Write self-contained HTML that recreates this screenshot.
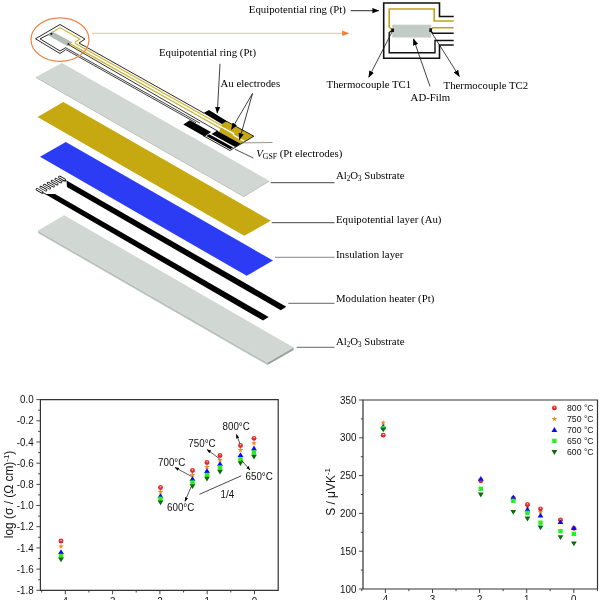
<!DOCTYPE html>
<html><head><meta charset="utf-8"><title>Sensor figure</title>
<style>
html,body{margin:0;padding:0;background:#fff;}
svg{display:block;}
.s{font-family:"Liberation Serif",serif;font-size:11.4px;fill:#000;}
.a{font-family:"Liberation Sans",sans-serif;font-size:10.4px;fill:#111;}
</style></head><body>
<svg width="600" height="600" viewBox="0 0 600 600">
<defs>
<marker id="ah" viewBox="0 0 10 10" refX="9" refY="5" markerWidth="7" markerHeight="7" markerUnits="userSpaceOnUse" orient="auto"><path d="M0,1.2 L10,5 L0,8.8 z" fill="#000"/></marker>
<marker id="ahs" viewBox="0 0 10 10" refX="9" refY="5" markerWidth="4.5" markerHeight="4.5" markerUnits="userSpaceOnUse" orient="auto"><path d="M0,1.5 L10,5 L0,8.5 z" fill="#000"/></marker>
<marker id="aho" viewBox="0 0 10 10" refX="9" refY="5" markerWidth="7" markerHeight="7" markerUnits="userSpaceOnUse" orient="auto"><path d="M0,1 L10,5 L0,9 z" fill="#f08030"/></marker>
<radialGradient id="rg" cx="0.52" cy="0.36" r="0.6"><stop offset="0" stop-color="#fff"/><stop offset="0.3" stop-color="#f04040"/><stop offset="1" stop-color="#d01010"/></radialGradient>
</defs>
<rect width="600" height="600" fill="#fff"/>

<polygon points="35.8,77.0 62.0,63.0 269.2,180.8 243.7,196.3" fill="#d1d8d4" />
<polyline points="35.8,77.3 243.7,196.6 269.2,181.1" fill="none" stroke="#a9b0ac" stroke-width="0.8"/>
<polygon points="37.5,117.0 63.3,102.0 270.8,220.8 244.2,235.8" fill="#c6a810" />
<polygon points="40.0,156.7 65.8,142.0 273.0,260.5 246.7,275.8" fill="#2c3cf4" />
<polygon points="38.0,230.5 38.0,233.0 267.5,365.0 267.5,362.5" fill="#b9c1bd" />
<polygon points="267.5,362.5 267.5,365.0 293.7,350.0 293.7,347.5" fill="#9aa29e" />
<polygon points="38.0,230.5 64.2,215.3 293.7,347.5 267.5,362.5" fill="#d1d8d4" />
<polygon points="66.5,180.5 286.3,306.7 280.8,310.3 67.0,187.0" fill="#000" />
<polygon points="45.0,194.0 55.0,194.0 268.7,317.0 263.0,320.5" fill="#000" />
<line x1="37.0" y1="189.3" x2="42.2" y2="192.3" stroke="#000" stroke-width="2.6" stroke-linecap="round"/>
<line x1="37.0" y1="189.3" x2="42.2" y2="192.3" stroke="#fff" stroke-width="1.1" stroke-linecap="round"/>
<line x1="40.8" y1="187.2" x2="46.0" y2="190.2" stroke="#000" stroke-width="2.6" stroke-linecap="round"/>
<line x1="40.8" y1="187.2" x2="46.0" y2="190.2" stroke="#fff" stroke-width="1.1" stroke-linecap="round"/>
<line x1="44.5" y1="185.2" x2="49.7" y2="188.2" stroke="#000" stroke-width="2.6" stroke-linecap="round"/>
<line x1="44.5" y1="185.2" x2="49.7" y2="188.2" stroke="#fff" stroke-width="1.1" stroke-linecap="round"/>
<line x1="48.2" y1="183.2" x2="53.5" y2="186.1" stroke="#000" stroke-width="2.6" stroke-linecap="round"/>
<line x1="48.2" y1="183.2" x2="53.5" y2="186.1" stroke="#fff" stroke-width="1.1" stroke-linecap="round"/>
<line x1="52.0" y1="181.1" x2="57.2" y2="184.1" stroke="#000" stroke-width="2.6" stroke-linecap="round"/>
<line x1="52.0" y1="181.1" x2="57.2" y2="184.1" stroke="#fff" stroke-width="1.1" stroke-linecap="round"/>
<line x1="55.8" y1="179.1" x2="61.0" y2="182.0" stroke="#000" stroke-width="2.6" stroke-linecap="round"/>
<line x1="55.8" y1="179.1" x2="61.0" y2="182.0" stroke="#fff" stroke-width="1.1" stroke-linecap="round"/>
<line x1="59.5" y1="177.0" x2="64.7" y2="180.0" stroke="#000" stroke-width="2.6" stroke-linecap="round"/>
<line x1="59.5" y1="177.0" x2="64.7" y2="180.0" stroke="#fff" stroke-width="1.1" stroke-linecap="round"/>
<path d="M62.5,180.8 L66.5,181" stroke="#000" stroke-width="0.8" fill="none"/>
<path d="M42,192.5 L46,194" stroke="#000" stroke-width="0.8" fill="none"/>
<path d="M79,43 L85,39 L60,24.5 L35.5,38.8 L60,53.5 L65.5,49.8" fill="none" stroke="#2a2a2a" stroke-width="1"/>
<path d="M51.5,33 L40,38.8 L60,51 L65.8,47.6" fill="none" stroke="#2a2a2a" stroke-width="1"/>
<path d="M51.5,33 L60,27.6 L80,39 L75,42.2" fill="none" stroke="#cbb534" stroke-width="1.1"/>
<polygon points="51.8,31.2 72.6,42.4 67.3,45.9 47.8,35.2" fill="#b4bcb7" />
<circle cx="51.3" cy="33.8" r="1.1" fill="#111"/>
<circle cx="68.6" cy="44.2" r="1.1" fill="#111"/>
<line x1="79.0" y1="43.0" x2="204.0" y2="113.2" stroke="#2a2a2a" stroke-width="1.00"/>
<line x1="75.0" y1="43.2" x2="224.5" y2="127.2" stroke="#cbb534" stroke-width="1.25"/>
<line x1="69.0" y1="43.1" x2="224.0" y2="130.2" stroke="#cbb534" stroke-width="1.25"/>
<line x1="68.5" y1="44.6" x2="218" y2="131.3" stroke="#2a2a2a" stroke-width="0.95"/>
<line x1="65.8" y1="47.8" x2="200.0" y2="123.2" stroke="#2a2a2a" stroke-width="0.90"/>
<line x1="65.5" y1="49.4" x2="196.0" y2="122.8" stroke="#2a2a2a" stroke-width="0.90"/>
<polygon points="203.5,113.0 209.0,110.0 228.0,121.7 223.0,124.7" fill="#000" />
<polygon points="183.3,124.6 189.8,120.3 211.0,132.0 204.5,136.6" fill="#000" />
<polygon points="253.8,136.2 245.5,141.2 234.5,135.1 234.0,133.1 222.0,126.5 221.5,124.2 225.7,121.7 227.8,121.9" fill="#c6a810" />
<polygon points="244.3,141.9 241.0,143.9 219.0,131.8 221.0,127.6 232.6,134.0 233.3,135.8" fill="#c6a810" />
<polyline points="227.6,121.8 253.8,136.2 230.0,150.5 203.5,135.9 207.8,133.3" fill="none" stroke="#111" stroke-width="0.9" stroke-linejoin="round"/>
<polygon points="240.7,143.7 235.2,147.0 211.5,134.0 217.0,130.7" fill="#000" />
<polygon points="233.2,147.4 230.2,149.2 206.2,136.0 209.2,134.2" fill="#000" />
<ellipse cx="60" cy="39.7" rx="29" ry="21.7" fill="none" stroke="#ee8648" stroke-width="1.25"/>
<line x1="92" y1="33.3" x2="348.5" y2="33.3" stroke="#f4b088" stroke-width="0.9" marker-end="url(#aho)"/>
<rect x="392.2" y="24.7" width="39" height="12.8" fill="#c3cbc6"/>
<path d="M453.7,16.5 H439.5 V3 H383.7 V58.2 H439.5 V45 H453.7" fill="none" stroke="#111" stroke-width="1.6"/>
<path d="M453.7,21 H434.2 V9 H389.2 V27 L392.5,30.2" fill="none" stroke="#bfa516" stroke-width="1.6"/>
<path d="M453.7,27.7 H432.8 L430.5,30" fill="none" stroke="#bfa516" stroke-width="1.6"/>
<path d="M453.7,33.3 H432.8 L430.8,30.6" fill="none" stroke="#111" stroke-width="1.4"/>
<path d="M453.7,40.5 H435 V52.8 H389.2 V32.5 L392.5,30" fill="none" stroke="#111" stroke-width="1.4"/>
<path d="M391.3,28.5 L394,28.5 L394,32 L391.3,32z" fill="#111"/>
<path d="M429.3,28.3 L432,28.3 L432,32 L429.3,32z" fill="#111"/>
<line x1="392.5" y1="31" x2="368.8" y2="77.2" stroke="#111" stroke-width="0.8" marker-end="url(#ah)"/>
<line x1="431" y1="31.5" x2="459.3" y2="76.5" stroke="#111" stroke-width="0.8" marker-end="url(#ah)"/>
<line x1="430" y1="86.4" x2="413.5" y2="39" stroke="#111" stroke-width="0.8" marker-end="url(#ah)"/>
<line x1="350.7" y1="10.7" x2="378.7" y2="10.7" stroke="#111" stroke-width="0.9" marker-end="url(#ah)"/>
<line x1="220" y1="63.8" x2="217.3" y2="113" stroke="#111" stroke-width="0.8" marker-end="url(#ah)"/>
<line x1="252.5" y1="93.5" x2="231.5" y2="129.3" stroke="#111" stroke-width="0.8" marker-end="url(#ah)"/>
<line x1="252.5" y1="93.5" x2="239.5" y2="139.5" stroke="#111" stroke-width="0.8" marker-end="url(#ah)"/>
<line x1="235" y1="149.2" x2="253.3" y2="158" stroke="#222" stroke-width="0.8"/>
<line x1="241.7" y1="142.9" x2="272.5" y2="142.5" stroke="#777" stroke-width="0.8"/>
<circle cx="263.3" cy="142.3" r="0.9" fill="#d8c020"/>
<line x1="270.7" y1="182.7" x2="334.5" y2="182.7" stroke="#333" stroke-width="0.9"/>
<line x1="271.7" y1="222.7" x2="334.5" y2="222.7" stroke="#333" stroke-width="0.9"/>
<line x1="275.0" y1="257.3" x2="334.5" y2="257.3" stroke="#777" stroke-width="0.9"/>
<line x1="288.3" y1="303.3" x2="334.5" y2="303.3" stroke="#555" stroke-width="0.9"/>
<line x1="296.7" y1="347.3" x2="334.5" y2="347.3" stroke="#555" stroke-width="0.9"/>
<text transform="translate(248.8,12.6) scale(0.947,1)" class="s" >Equipotential ring (Pt)</text>
<text transform="translate(158.9,55.6) scale(0.947,1)" class="s" >Equipotential ring (Pt)</text>
<text transform="translate(220.5,87.2) scale(0.947,1)" class="s" >Au electrodes</text>
<text transform="translate(256.2,156.7) scale(0.947,1)" class="s" ><tspan font-style="italic">V</tspan><tspan font-size="8.2" dy="1.8">GSF</tspan><tspan dy="-1.8"> (Pt electrodes)</tspan></text>
<text transform="translate(336.0,178.8) scale(0.947,1)" class="s" >Al<tspan font-size="7.4" dy="1.8">2</tspan><tspan dy="-1.8">O</tspan><tspan font-size="7.4" dy="1.8">3</tspan><tspan dy="-1.8"> Substrate</tspan></text>
<text transform="translate(336.0,222.8) scale(0.947,1)" class="s" >Equipotential layer (Au)</text>
<text transform="translate(336.0,258.3) scale(0.947,1)" class="s" >Insulation layer</text>
<text transform="translate(336.0,301.7) scale(0.947,1)" class="s" >Modulation heater (Pt)</text>
<text transform="translate(336.0,345.0) scale(0.947,1)" class="s" >Al<tspan font-size="7.4" dy="1.8">2</tspan><tspan dy="-1.8">O</tspan><tspan font-size="7.4" dy="1.8">3</tspan><tspan dy="-1.8"> Substrate</tspan></text>
<text transform="translate(326.6,87.5) scale(0.947,1)" class="s" >Thermocouple TC1</text>
<text transform="translate(443.6,88.6) scale(0.947,1)" class="s" >Thermocouple TC2</text>
<text transform="translate(410.6,101.0) scale(0.947,1)" class="s" >AD-Film</text>
<path d="M40.4,399.6 H278.2 V590.3 H40.4 z" fill="none" stroke="#333" stroke-width="1.2"/>
<line x1="36.4" y1="399.6" x2="40.4" y2="399.6" stroke="#333" stroke-width="0.9"/>
<text transform="translate(33.6,403.2) scale(0.942,1)" class="a" text-anchor="end">0.0</text>
<line x1="38.2" y1="410.2" x2="40.4" y2="410.2" stroke="#333" stroke-width="0.9"/>
<line x1="36.4" y1="420.8" x2="40.4" y2="420.8" stroke="#333" stroke-width="0.9"/>
<text transform="translate(33.6,424.4) scale(0.942,1)" class="a" text-anchor="end">-0.2</text>
<line x1="38.2" y1="431.4" x2="40.4" y2="431.4" stroke="#333" stroke-width="0.9"/>
<line x1="36.4" y1="442.0" x2="40.4" y2="442.0" stroke="#333" stroke-width="0.9"/>
<text transform="translate(33.6,445.6) scale(0.942,1)" class="a" text-anchor="end">-0.4</text>
<line x1="38.2" y1="452.6" x2="40.4" y2="452.6" stroke="#333" stroke-width="0.9"/>
<line x1="36.4" y1="463.2" x2="40.4" y2="463.2" stroke="#333" stroke-width="0.9"/>
<text transform="translate(33.6,466.8) scale(0.942,1)" class="a" text-anchor="end">-0.6</text>
<line x1="38.2" y1="473.8" x2="40.4" y2="473.8" stroke="#333" stroke-width="0.9"/>
<line x1="36.4" y1="484.4" x2="40.4" y2="484.4" stroke="#333" stroke-width="0.9"/>
<text transform="translate(33.6,488.0) scale(0.942,1)" class="a" text-anchor="end">-0.8</text>
<line x1="38.2" y1="494.9" x2="40.4" y2="494.9" stroke="#333" stroke-width="0.9"/>
<line x1="36.4" y1="505.5" x2="40.4" y2="505.5" stroke="#333" stroke-width="0.9"/>
<text transform="translate(33.6,509.1) scale(0.942,1)" class="a" text-anchor="end">-1.0</text>
<line x1="38.2" y1="516.1" x2="40.4" y2="516.1" stroke="#333" stroke-width="0.9"/>
<line x1="36.4" y1="526.7" x2="40.4" y2="526.7" stroke="#333" stroke-width="0.9"/>
<text transform="translate(33.6,530.3) scale(0.942,1)" class="a" text-anchor="end">-1.2</text>
<line x1="38.2" y1="537.3" x2="40.4" y2="537.3" stroke="#333" stroke-width="0.9"/>
<line x1="36.4" y1="547.9" x2="40.4" y2="547.9" stroke="#333" stroke-width="0.9"/>
<text transform="translate(33.6,551.5) scale(0.942,1)" class="a" text-anchor="end">-1.4</text>
<line x1="38.2" y1="558.5" x2="40.4" y2="558.5" stroke="#333" stroke-width="0.9"/>
<line x1="36.4" y1="569.1" x2="40.4" y2="569.1" stroke="#333" stroke-width="0.9"/>
<text transform="translate(33.6,572.7) scale(0.942,1)" class="a" text-anchor="end">-1.6</text>
<line x1="38.2" y1="579.7" x2="40.4" y2="579.7" stroke="#333" stroke-width="0.9"/>
<line x1="36.4" y1="590.3" x2="40.4" y2="590.3" stroke="#333" stroke-width="0.9"/>
<text transform="translate(33.6,593.9) scale(0.942,1)" class="a" text-anchor="end">-1.8</text>
<line x1="65.3" y1="590.3" x2="65.3" y2="594.3" stroke="#333" stroke-width="0.9"/>
<text transform="translate(63.7,604.6) scale(0.942,1)" class="a" text-anchor="middle">-4</text>
<line x1="112.6" y1="590.3" x2="112.6" y2="594.3" stroke="#333" stroke-width="0.9"/>
<text transform="translate(111.0,604.6) scale(0.942,1)" class="a" text-anchor="middle">-3</text>
<line x1="159.9" y1="590.3" x2="159.9" y2="594.3" stroke="#333" stroke-width="0.9"/>
<text transform="translate(158.3,604.6) scale(0.942,1)" class="a" text-anchor="middle">-2</text>
<line x1="207.2" y1="590.3" x2="207.2" y2="594.3" stroke="#333" stroke-width="0.9"/>
<text transform="translate(205.6,604.6) scale(0.942,1)" class="a" text-anchor="middle">-1</text>
<line x1="254.5" y1="590.3" x2="254.5" y2="594.3" stroke="#333" stroke-width="0.9"/>
<text transform="translate(254.5,604.6) scale(0.942,1)" class="a" text-anchor="middle">0</text>
<line x1="41.6" y1="590.3" x2="41.6" y2="592.5" stroke="#333" stroke-width="0.9"/>
<line x1="88.9" y1="590.3" x2="88.9" y2="592.5" stroke="#333" stroke-width="0.9"/>
<line x1="136.2" y1="590.3" x2="136.2" y2="592.5" stroke="#333" stroke-width="0.9"/>
<line x1="183.6" y1="590.3" x2="183.6" y2="592.5" stroke="#333" stroke-width="0.9"/>
<line x1="230.8" y1="590.3" x2="230.8" y2="592.5" stroke="#333" stroke-width="0.9"/>
<text class="a" style="font-size:12.3px" text-anchor="middle" transform="translate(12.8,494.5) rotate(-90) scale(0.97,1)">log (σ / (Ω cm)<tspan font-size="8" dy="-4.2">-1</tspan><tspan dy="4.2">)</tspan></text>
<circle cx="61.0" cy="541.0" r="2.4" fill="url(#rg)"/>
<polygon points="61.0,543.7 61.7,545.5 63.7,545.6 62.1,546.9 62.6,548.8 61.0,547.7 59.4,548.8 59.9,546.9 58.3,545.6 60.3,545.5" fill="#f28a1e" />
<polygon points="58.1,554.1 63.9,554.1 61.0,549.2" fill="#0a0af8" />
<rect x="58.8" y="553.8" width="4.4" height="4.4" fill="#22f422"/>
<polygon points="58.1,557.4 63.9,557.4 61.0,562.3" fill="#106a10" />
<circle cx="160.5" cy="487.5" r="2.4" fill="url(#rg)"/>
<polygon points="160.5,489.0 161.2,490.8 163.2,490.9 161.6,492.2 162.1,494.1 160.5,493.0 158.9,494.1 159.4,492.2 157.8,490.9 159.8,490.8" fill="#f28a1e" />
<polygon points="157.6,497.9 163.4,497.9 160.5,493.0" fill="#0a0af8" />
<rect x="158.3" y="496.6" width="4.4" height="4.4" fill="#22f422"/>
<polygon points="157.6,500.4 163.4,500.4 160.5,505.3" fill="#106a10" />
<circle cx="192.5" cy="470.5" r="2.4" fill="url(#rg)"/>
<polygon points="192.5,472.2 193.2,474.0 195.2,474.1 193.6,475.4 194.1,477.3 192.5,476.2 190.9,477.3 191.4,475.4 189.8,474.1 191.8,474.0" fill="#f28a1e" />
<polygon points="189.6,480.9 195.4,480.9 192.5,476.0" fill="#0a0af8" />
<rect x="190.3" y="480.3" width="4.4" height="4.4" fill="#22f422"/>
<polygon points="189.6,484.2 195.4,484.2 192.5,489.1" fill="#106a10" />
<circle cx="207.0" cy="462.5" r="2.4" fill="url(#rg)"/>
<polygon points="207.0,464.2 207.7,466.0 209.7,466.1 208.1,467.4 208.6,469.3 207.0,468.2 205.4,469.3 205.9,467.4 204.3,466.1 206.3,466.0" fill="#f28a1e" />
<polygon points="204.1,472.9 209.9,472.9 207.0,468.0" fill="#0a0af8" />
<rect x="204.8" y="472.8" width="4.4" height="4.4" fill="#22f422"/>
<polygon points="204.1,476.7 209.9,476.7 207.0,481.6" fill="#106a10" />
<circle cx="220.0" cy="455.5" r="2.4" fill="url(#rg)"/>
<polygon points="220.0,457.2 220.7,459.0 222.7,459.1 221.1,460.4 221.6,462.3 220.0,461.2 218.4,462.3 218.9,460.4 217.3,459.1 219.3,459.0" fill="#f28a1e" />
<polygon points="217.1,465.9 222.9,465.9 220.0,461.0" fill="#0a0af8" />
<rect x="217.8" y="465.3" width="4.4" height="4.4" fill="#22f422"/>
<polygon points="217.1,469.7 222.9,469.7 220.0,474.6" fill="#106a10" />
<circle cx="240.5" cy="445.5" r="2.4" fill="url(#rg)"/>
<polygon points="240.5,447.2 241.2,449.0 243.2,449.1 241.6,450.4 242.1,452.3 240.5,451.2 238.9,452.3 239.4,450.4 237.8,449.1 239.8,449.0" fill="#f28a1e" />
<polygon points="237.6,457.1 243.4,457.1 240.5,452.2" fill="#0a0af8" />
<rect x="238.3" y="457.1" width="4.4" height="4.4" fill="#22f422"/>
<polygon points="237.6,461.2 243.4,461.2 240.5,466.1" fill="#106a10" />
<circle cx="254.0" cy="438.3" r="2.4" fill="url(#rg)"/>
<polygon points="254.0,440.5 254.7,442.3 256.7,442.4 255.1,443.7 255.6,445.6 254.0,444.5 252.4,445.6 252.9,443.7 251.3,442.4 253.3,442.3" fill="#f28a1e" />
<polygon points="251.1,450.4 256.9,450.4 254.0,445.5" fill="#0a0af8" />
<rect x="251.8" y="450.3" width="4.4" height="4.4" fill="#22f422"/>
<polygon points="251.1,454.7 256.9,454.7 254.0,459.6" fill="#106a10" />
<text transform="translate(222.5,430.3) scale(0.942,1)" class="a" >800°C</text>
<text transform="translate(188.3,447.1) scale(0.942,1)" class="a" >750°C</text>
<text transform="translate(158.0,465.8) scale(0.942,1)" class="a" >700°C</text>
<text transform="translate(245.5,479.8) scale(0.942,1)" class="a" >650°C</text>
<text transform="translate(167.0,511.1) scale(0.942,1)" class="a" >600°C</text>
<text transform="translate(220.5,497.8) scale(0.942,1)" class="a" >1/4</text>
<line x1="199.5" y1="494.3" x2="241.3" y2="475.8" stroke="#333" stroke-width="0.9"/>
<line x1="240.0" y1="443.8" x2="236.3" y2="434.3" stroke="#111" stroke-width="0.7" marker-end="url(#ahs)"/>
<line x1="219.5" y1="458.8" x2="207.0" y2="449.5" stroke="#111" stroke-width="0.7" marker-end="url(#ahs)"/>
<line x1="191.3" y1="476.3" x2="175.0" y2="467.5" stroke="#111" stroke-width="0.7" marker-end="url(#ahs)"/>
<line x1="241.3" y1="460.0" x2="250.0" y2="470.0" stroke="#111" stroke-width="0.7" marker-end="url(#ahs)"/>
<line x1="191.3" y1="486.3" x2="185.0" y2="501.3" stroke="#111" stroke-width="0.7" marker-end="url(#ahs)"/>
<path d="M363.0,400.0 H597.5 V589.0 H363.0 z" fill="none" stroke="#333" stroke-width="1.2"/>
<line x1="359.0" y1="400.0" x2="363.0" y2="400.0" stroke="#333" stroke-width="0.9"/>
<text transform="translate(356.4,403.6) scale(0.942,1)" class="a" text-anchor="end">350</text>
<line x1="360.8" y1="418.9" x2="363.0" y2="418.9" stroke="#333" stroke-width="0.9"/>
<line x1="359.0" y1="437.8" x2="363.0" y2="437.8" stroke="#333" stroke-width="0.9"/>
<text transform="translate(356.4,441.4) scale(0.942,1)" class="a" text-anchor="end">300</text>
<line x1="360.8" y1="456.7" x2="363.0" y2="456.7" stroke="#333" stroke-width="0.9"/>
<line x1="359.0" y1="475.6" x2="363.0" y2="475.6" stroke="#333" stroke-width="0.9"/>
<text transform="translate(356.4,479.2) scale(0.942,1)" class="a" text-anchor="end">250</text>
<line x1="360.8" y1="494.5" x2="363.0" y2="494.5" stroke="#333" stroke-width="0.9"/>
<line x1="359.0" y1="513.4" x2="363.0" y2="513.4" stroke="#333" stroke-width="0.9"/>
<text transform="translate(356.4,517.0) scale(0.942,1)" class="a" text-anchor="end">200</text>
<line x1="360.8" y1="532.3" x2="363.0" y2="532.3" stroke="#333" stroke-width="0.9"/>
<line x1="359.0" y1="551.2" x2="363.0" y2="551.2" stroke="#333" stroke-width="0.9"/>
<text transform="translate(356.4,554.8) scale(0.942,1)" class="a" text-anchor="end">150</text>
<line x1="360.8" y1="570.1" x2="363.0" y2="570.1" stroke="#333" stroke-width="0.9"/>
<line x1="359.0" y1="589.0" x2="363.0" y2="589.0" stroke="#333" stroke-width="0.9"/>
<text transform="translate(356.4,592.6) scale(0.942,1)" class="a" text-anchor="end">100</text>
<line x1="385.4" y1="589.0" x2="385.4" y2="593.0" stroke="#333" stroke-width="0.9"/>
<text transform="translate(383.8,602.6) scale(0.942,1)" class="a" text-anchor="middle">-4</text>
<line x1="432.5" y1="589.0" x2="432.5" y2="593.0" stroke="#333" stroke-width="0.9"/>
<text transform="translate(430.9,602.6) scale(0.942,1)" class="a" text-anchor="middle">-3</text>
<line x1="479.6" y1="589.0" x2="479.6" y2="593.0" stroke="#333" stroke-width="0.9"/>
<text transform="translate(478.0,602.6) scale(0.942,1)" class="a" text-anchor="middle">-2</text>
<line x1="526.7" y1="589.0" x2="526.7" y2="593.0" stroke="#333" stroke-width="0.9"/>
<text transform="translate(525.1,602.6) scale(0.942,1)" class="a" text-anchor="middle">-1</text>
<line x1="573.8" y1="589.0" x2="573.8" y2="593.0" stroke="#333" stroke-width="0.9"/>
<text transform="translate(573.8,602.6) scale(0.942,1)" class="a" text-anchor="middle">0</text>
<line x1="361.8" y1="589.0" x2="361.8" y2="591.2" stroke="#333" stroke-width="0.9"/>
<line x1="408.9" y1="589.0" x2="408.9" y2="591.2" stroke="#333" stroke-width="0.9"/>
<line x1="456.0" y1="589.0" x2="456.0" y2="591.2" stroke="#333" stroke-width="0.9"/>
<line x1="503.1" y1="589.0" x2="503.1" y2="591.2" stroke="#333" stroke-width="0.9"/>
<line x1="550.2" y1="589.0" x2="550.2" y2="591.2" stroke="#333" stroke-width="0.9"/>
<line x1="597.4" y1="589.0" x2="597.4" y2="591.2" stroke="#333" stroke-width="0.9"/>
<text class="a" style="font-size:12.3px" text-anchor="middle" transform="translate(334.5,492) rotate(-90) scale(0.97,1)">S / μVK<tspan font-size="8" dy="-4.2">-1</tspan></text>
<polygon points="383.2,419.9 383.9,421.7 385.9,421.8 384.3,423.1 384.8,425.0 383.2,423.9 381.6,425.0 382.1,423.1 380.5,421.8 382.5,421.7" fill="#f28a1e" />
<circle cx="383.2" cy="435.2" r="2.4" fill="url(#rg)"/>
<polygon points="380.3,428.6 386.1,428.6 383.2,423.7" fill="#0a0af8" />
<rect x="381.0" y="425.8" width="4.4" height="4.4" fill="#22f422"/>
<polygon points="380.3,427.4 386.1,427.4 383.2,432.3" fill="#106a10" />
<polygon points="480.8,476.7 481.5,478.5 483.5,478.6 481.9,479.9 482.4,481.8 480.8,480.7 479.2,481.8 479.7,479.9 478.1,478.6 480.1,478.5" fill="#f28a1e" />
<circle cx="480.8" cy="480.8" r="2.4" fill="url(#rg)"/>
<polygon points="477.9,480.8 483.7,480.8 480.8,475.9" fill="#0a0af8" />
<rect x="478.6" y="486.6" width="4.4" height="4.4" fill="#22f422"/>
<polygon points="477.9,492.6 483.7,492.6 480.8,497.5" fill="#106a10" />
<polygon points="513.3,495.2 514.0,497.0 516.0,497.1 514.4,498.4 514.9,500.3 513.3,499.2 511.7,500.3 512.2,498.4 510.6,497.1 512.6,497.0" fill="#f28a1e" />
<circle cx="513.3" cy="498.3" r="2.4" fill="url(#rg)"/>
<polygon points="510.4,499.4 516.2,499.4 513.3,494.5" fill="#0a0af8" />
<rect x="511.1" y="498.6" width="4.4" height="4.4" fill="#22f422"/>
<polygon points="510.4,509.9 516.2,509.9 513.3,514.8" fill="#106a10" />
<polygon points="527.5,503.2 528.2,505.0 530.2,505.1 528.6,506.4 529.1,508.3 527.5,507.2 525.9,508.3 526.4,506.4 524.8,505.1 526.8,505.0" fill="#f28a1e" />
<circle cx="527.5" cy="504.5" r="2.4" fill="url(#rg)"/>
<polygon points="524.6,511.4 530.4,511.4 527.5,506.5" fill="#0a0af8" />
<rect x="525.3" y="510.6" width="4.4" height="4.4" fill="#22f422"/>
<polygon points="524.6,516.6 530.4,516.6 527.5,521.5" fill="#106a10" />
<polygon points="540.5,509.2 541.2,511.0 543.2,511.1 541.6,512.4 542.1,514.3 540.5,513.2 538.9,514.3 539.4,512.4 537.8,511.1 539.8,511.0" fill="#f28a1e" />
<circle cx="540.5" cy="508.8" r="2.4" fill="url(#rg)"/>
<polygon points="537.6,517.6 543.4,517.6 540.5,512.7" fill="#0a0af8" />
<rect x="538.3" y="520.5" width="4.4" height="4.4" fill="#22f422"/>
<polygon points="537.6,525.4 543.4,525.4 540.5,530.3" fill="#106a10" />
<polygon points="560.5,518.2 561.2,520.0 563.2,520.1 561.6,521.4 562.1,523.3 560.5,522.2 558.9,523.3 559.4,521.4 557.8,520.1 559.8,520.0" fill="#f28a1e" />
<circle cx="560.5" cy="520.0" r="2.4" fill="url(#rg)"/>
<polygon points="557.6,524.1 563.4,524.1 560.5,519.2" fill="#0a0af8" />
<rect x="558.3" y="529.0" width="4.4" height="4.4" fill="#22f422"/>
<polygon points="557.6,535.2 563.4,535.2 560.5,540.1" fill="#106a10" />
<polygon points="573.9,525.2 574.6,527.0 576.6,527.1 575.0,528.4 575.5,530.3 573.9,529.2 572.3,530.3 572.8,528.4 571.2,527.1 573.2,527.0" fill="#f28a1e" />
<circle cx="573.9" cy="528.3" r="2.4" fill="url(#rg)"/>
<polygon points="571.0,529.9 576.8,529.9 573.9,525.0" fill="#0a0af8" />
<rect x="571.7" y="531.7" width="4.4" height="4.4" fill="#22f422"/>
<polygon points="571.0,541.4 576.8,541.4 573.9,546.3" fill="#106a10" />
<circle cx="554.4" cy="407.9" r="2.4" fill="url(#rg)"/>
<text transform="translate(567,411.1) scale(0.945,1)" class="a" style="font-size:9.2px">800 °C</text>
<polygon points="554.4,416.2 555.1,418.0 557.1,418.1 555.5,419.4 556.0,421.3 554.4,420.2 552.8,421.3 553.3,419.4 551.7,418.1 553.7,418.0" fill="#f28a1e" />
<text transform="translate(567,422.2) scale(0.945,1)" class="a" style="font-size:9.2px">750 °C</text>
<polygon points="551.5,432.0 557.3,432.0 554.4,427.1" fill="#0a0af8" />
<text transform="translate(567,433.1) scale(0.945,1)" class="a" style="font-size:9.2px">700 °C</text>
<rect x="552.2" y="438.7" width="4.4" height="4.4" fill="#22f422"/>
<text transform="translate(567,444.1) scale(0.945,1)" class="a" style="font-size:9.2px">650 °C</text>
<polygon points="551.5,450.0 557.3,450.0 554.4,454.9" fill="#106a10" />
<text transform="translate(567,455.3) scale(0.945,1)" class="a" style="font-size:9.2px">600 °C</text>
</svg></body></html>
